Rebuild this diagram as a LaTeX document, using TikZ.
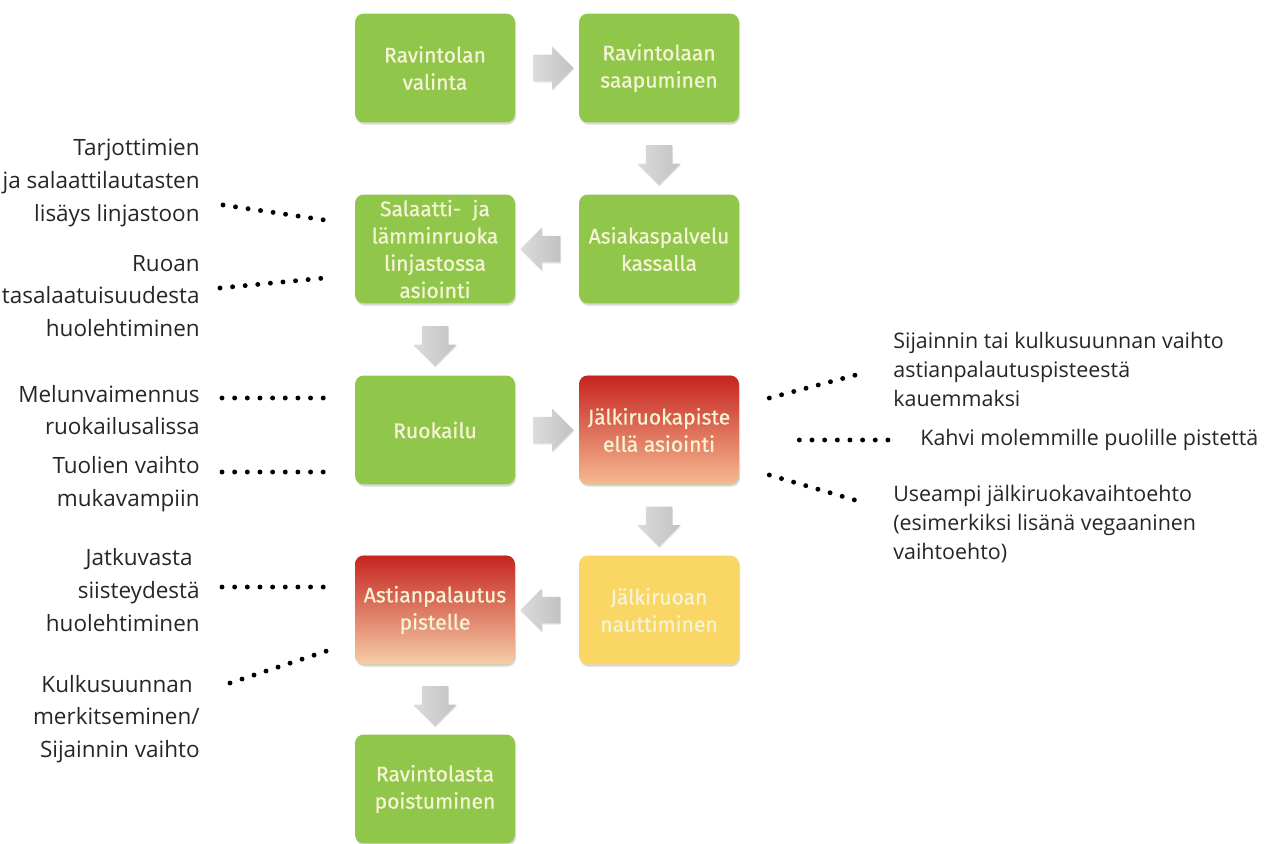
\documentclass[tikz,border=0pt]{standalone}
\usepackage{fontspec}
\setmainfont{Open Sans}
\newfontfamily\stagefont{Fira Sans}[FakeBold=0.7]
\usepackage{tikz}
\usetikzlibrary{positioning, calc, shapes.arrows, shadows}
\definecolor{stage_green}{RGB}{144, 198, 74}
\definecolor{stage_text}{RGB}{246, 244, 214}
\definecolor{sweet_yellow}{RGB}{250, 214, 100}
\definecolor{hot_top}{RGB}{198, 36, 32}
\definecolor{hot_mid}{RGB}{216, 66, 44}
\definecolor{hot_low}{RGB}{246, 186, 146}
\definecolor{back_mid}{RGB}{238, 118, 30}
\definecolor{back_low}{RGB}{246, 206, 168}

\begin{document}
\begin{tikzpicture}[x=0.02cm, y=-0.02cm,
      stage/.style={rounded corners=5pt, minimum width=3.2cm, minimum height=2.18cm,
        inner sep=2pt, fill=stage_green, text=stage_text, align=center,
        font=\stagefont\fontsize{12}{15.5}\selectfont,
        drop shadow={shadow xshift=0.6pt, shadow yshift=-1.2pt, opacity=0.3}},
      hot/.style={stage, top color=hot_top, middle color=hot_mid, bottom color=hot_low},
      back/.style={stage, top color=hot_top, middle color=back_mid, bottom color=back_low},
      sweet/.style={stage, fill=sweet_yellow},
      garrow/.style={single arrow, draw=none, inner sep=0pt, minimum height=0.8cm,
        text height=0.5cm, minimum width=0.86cm, single arrow head extend=0.16cm,
        left color=gray!28, right color=gray!48,
        drop shadow={shadow xshift=0.4pt, shadow yshift=-0.8pt, opacity=0.2}},
      lnote/.style={anchor=east, align=right, inner sep=0pt, text=black!85,
        font=\fontsize{12.8}{18.6}\selectfont},
      rnote/.style={anchor=west, align=left, inner sep=0pt, text=black!85,
        font=\fontsize{12.2}{16.5}\selectfont},
      dots/.style={line width=2.8pt, line cap=round, dash pattern=on 0pt off 7.2pt}]

    \useasboundingbox (0,0) rectangle (1280,844);

    %% ---- process steps --------------------------------------------------
    \node[stage] (s1) at (435, 68) {Ravintolan\\valinta};
    \node[stage] (s2) at (659, 68) {Ravintolaan\\saapuminen};
    \node[stage] (s3) at (435,249) {Salaatti-\ \ ja\\lämminruoka\\linjastossa\\asiointi};
    \node[stage] (s4) at (659,249) {Asiakaspalvelu\\kassalla};
    \node[stage] (s5) at (435,430) {Ruokailu};
    \node[hot]   (s6) at (659,430) {Jälkiruokapiste\\ellä asiointi};
    \node[back]  (s7) at (435,610) {Astianpalautus\\pistelle};
    \node[sweet] (s8) at (659,610) {Jälkiruoan\\nauttiminen};
    \node[stage] (s9) at (435,789) {Ravintolasta\\poistuminen};

    %% ---- grey block arrows between steps --------------------------------
    \node[garrow]             (a12) at ($(s1.east)!0.5!(s2.west)$) {};
    \node[garrow, rotate=-90] (a24) at ($(s2.south)!0.5!(s4.north)$) {};
    \node[garrow, rotate=180] (a43) at ($(s4.west)!0.5!(s3.east)$) {};
    \node[garrow, rotate=-90] (a35) at ($(s3.south)!0.5!(s5.north)$) {};
    \node[garrow]             (a56) at ($(s5.east)!0.5!(s6.west)$) {};
    \node[garrow, rotate=-90] (a68) at ($(s6.south)!0.5!(s8.north)$) {};
    \node[garrow, rotate=180] (a87) at ($(s8.west)!0.5!(s7.east)$) {};
    \node[garrow, rotate=-90] (a79) at ($(s7.south)!0.5!(s9.north)$) {};

    %% ---- ideas on the left ----------------------------------------------
    \node[lnote] (l1) at (200,183) {Tarjottimien\\ja salaattilautasten\\lisäys linjastoon};
    \node[lnote] (l2) at (200,296) {Ruoan\\tasalaatuisuudesta\\huolehtiminen};
    \node[lnote] (l3) at (200,410) {Melunvaimennus\\ruokailusalissa};
    \node[lnote] (l4) at (200,484) {Tuolien vaihto\\mukavampiin};
    \node[lnote] (l5) at (200,590) {Jatkuvasta\hspace*{4pt}\\siisteydestä\\huolehtiminen};
    \node[lnote] (l6) at (200,719) {Kulkusuunnan\hspace*{4pt}\\merkitseminen/\\Sijainnin vaihto};

    \draw[dots] ($(l1.east)+(23,22)$)  -- ($(s3.west)+(-30,-29)$);
    \draw[dots] ($(l2.east)+(20,-8)$)  -- ($(s3.west)+(-30,29)$);
    \draw[dots] ($(l3.east)+(22,-12)$) -- ($(s5.west)+(-30,-32)$);
    \draw[dots] ($(l4.east)+(22,-12)$) -- ($(s5.west)+(-30,42)$);
    \draw[dots] ($(l5.east)+(22,-3)$)  -- ($(s7.west)+(-30,-23)$);
    \draw[dots] ($(l6.east)+(30,-36)$) -- ($(s7.west)+(-25,40)$);

    %% ---- ideas on the right ---------------------------------------------
    \node[rnote] (r1) at (893,369) {Sijainnin tai kulkusuunnan vaihto\\astianpalautuspisteestä\\kauemmaksi};
    \node[rnote] (r2) at (920,440) {Kahvi molemmille puolille pistettä};
    \node[rnote] (r3) at (893,524) {Useampi jälkiruokavaihtoehto\\(esimerkiksi lisänä vegaaninen\\vaihtoehto)};

    \draw[dots] ($(s6.east)+(30,-32)$) -- ($(r1.west)+(-26,3)$);
    \draw[dots] ($(s6.east)+(60,10)$)  -- ($(r2.west)+(-20,0)$);
    \draw[dots] ($(s6.east)+(30,45)$)  -- ($(r3.west)+(-28,-21)$);
  \end{tikzpicture}
\end{document}
